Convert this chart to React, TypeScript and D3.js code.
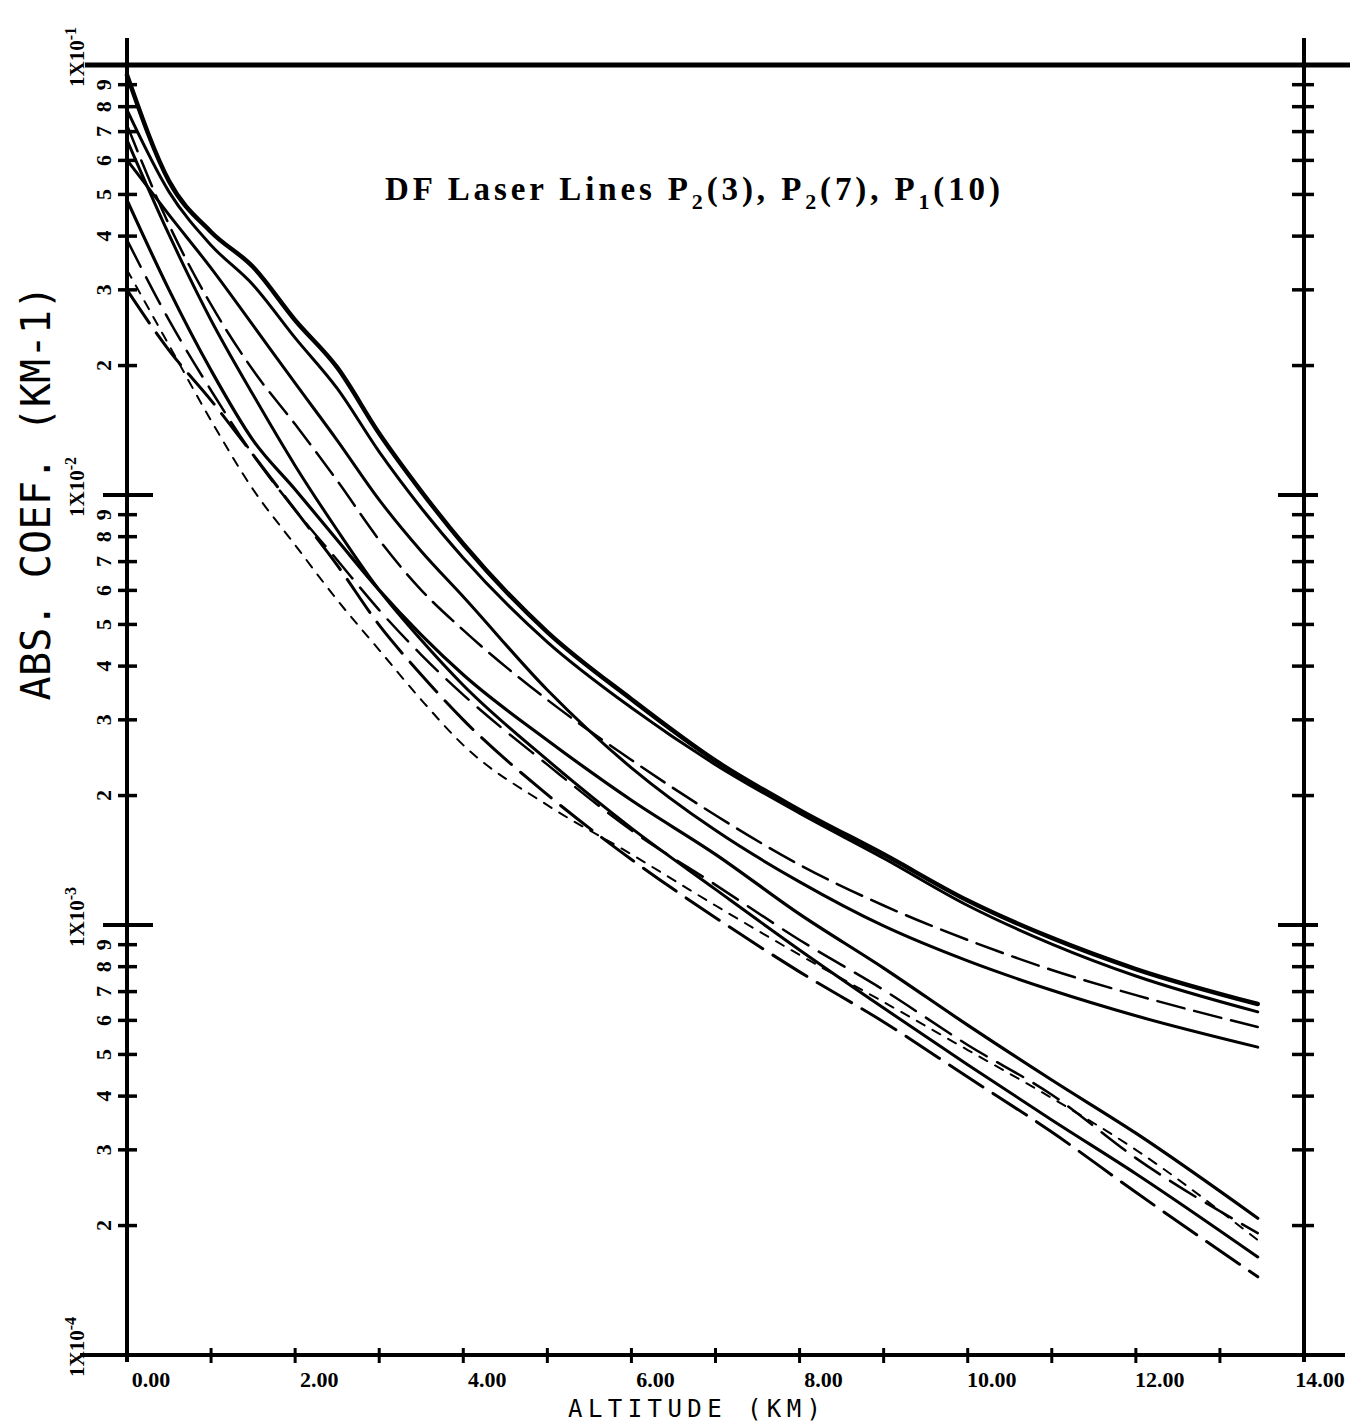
import React from "react";
import * as d3 from "d3";

const altitudeKm = [0, 0.5, 1, 1.5, 2, 2.5, 3, 3.5, 4, 5, 6, 7, 8, 9, 10, 11, 12, 13.45];

// absorption coefficient (km^-1), one array per curve
const coefA = [0.0948, 0.0537, 0.0409, 0.0339, 0.0255, 0.0198, 0.0139, 0.0102, 0.00769, 0.0048, 0.00335, 0.00241, 0.00185, 0.00146, 0.00114, 0.000933, 0.00079, 0.000655];
const coefB = [0.0786, 0.0507, 0.0381, 0.0308, 0.0232, 0.0177, 0.0126, 0.00933, 0.00714, 0.00455, 0.0032, 0.00236, 0.00182, 0.00143, 0.00111, 0.000903, 0.000761, 0.000628];
const coefC = [0.0725, 0.0425, 0.0277, 0.0195, 0.0146, 0.0108, 0.00786, 0.00601, 0.00485, 0.00334, 0.00242, 0.0018, 0.00138, 0.00111, 0.000923, 0.000786, 0.000687, 0.000579];
const coefD = [0.0601, 0.0448, 0.0337, 0.0248, 0.0182, 0.0134, 0.00974, 0.0074, 0.0058, 0.00352, 0.00232, 0.00166, 0.00126, 0.000995, 0.000825, 0.000705, 0.000615, 0.00052];
const coefE = [0.0485, 0.03, 0.0195, 0.0134, 0.0103, 0.00786, 0.00601, 0.00473, 0.00382, 0.00269, 0.00195, 0.00146, 0.00106, 0.000794, 0.000585, 0.000436, 0.000328, 0.000208];
const coefF = [0.0392, 0.0255, 0.0175, 0.0124, 0.00923, 0.00706, 0.0054, 0.00425, 0.00343, 0.00236, 0.00166, 0.00124, 0.000923, 0.000706, 0.000526, 0.000403, 0.000287, 0.000192];
const coefG = [0.0669, 0.0403, 0.0255, 0.0171, 0.0117, 0.00829, 0.00601, 0.0046, 0.00361, 0.00242, 0.00168, 0.00121, 0.000875, 0.000641, 0.000473, 0.000352, 0.000264, 0.000169];
const coefH = [0.03, 0.0217, 0.0166, 0.0124, 0.00923, 0.00687, 0.00498, 0.00382, 0.003, 0.00201, 0.00142, 0.00104, 0.000778, 0.000595, 0.000443, 0.00033, 0.000239, 0.000152];
const coefI = [0.0334, 0.0223, 0.0149, 0.0103, 0.00765, 0.0057, 0.00436, 0.00334, 0.00262, 0.0019, 0.00146, 0.00111, 0.000852, 0.000662, 0.000512, 0.000396, 0.0003, 0.000185];

const xTickLabels = ["0.00", "2.00", "4.00", "6.00", "8.00", "10.00", "12.00", "14.00"];

// line look for each curve
const curves = [
  { values: coefA, width: 4.5, dash: "" },
  { values: coefB, width: 3, dash: "" },
  { values: coefC, width: 2.5, dash: "28 10" },
  { values: coefD, width: 3, dash: "" },
  { values: coefE, width: 3.2, dash: "" },
  { values: coefF, width: 2.5, dash: "30 12" },
  { values: coefG, width: 3, dash: "" },
  { values: coefH, width: 3, dash: "40 12" },
  { values: coefI, width: 2, dash: "9 9" },
];

export default function App() {
  const x = d3.scaleLinear().domain([0, 14]).range([127, 1304]);
  const y = d3.scaleLog().domain([1e-4, 1e-1]).range([1355, 65]);

  const line = d3
    .line<number>()
    .x((_, i) => x(altitudeKm[i]))
    .y((d) => y(d))
    .curve(d3.curveMonotoneX);

  const yTicks = y.ticks().map((t) => {
    const e = Math.floor(Math.log10(t) + 1e-9);
    const m = Math.round(t / Math.pow(10, e));
    return { t, e, m };
  });

  const xMinor = d3.range(1, 14);
  const xMajor = d3.range(0, 15, 2);

  const labelFont = "Liberation Serif";
  const plotFont = "DejaVu Sans Mono";

  return (
    <svg
      width={1354}
      height={1427}
      style={{ position: "absolute", left: 0, top: 0, background: "#fff" }}
    >
      <rect width={1354} height={1427} fill="#fff" />

      {/* frame */}
      <line x1={85} x2={1350} y1={65} y2={65} stroke="#000" strokeWidth={5} />
      <line x1={80} x2={1345} y1={y(1e-4)} y2={y(1e-4)} stroke="#000" strokeWidth={4} />
      <line x1={x(0)} x2={x(0)} y1={38} y2={1362} stroke="#000" strokeWidth={4} />
      <line x1={x(14)} x2={x(14)} y1={38} y2={1362} stroke="#000" strokeWidth={4} />

      {/* log ticks, left and right */}
      {yTicks.map(({ t, m }, i) => {
        const yy = y(t);
        const major = m === 1;
        return (
          <g key={"yt" + i}>
            <line
              x1={x(0) - (major ? 24 : 9)}
              x2={x(0) + (major ? 26 : 10)}
              y1={yy}
              y2={yy}
              stroke="#000"
              strokeWidth={major ? 4 : 3.5}
            />
            <line
              x1={x(14) - (major ? 26 : 12)}
              x2={x(14) + (major ? 14 : 10)}
              y1={yy}
              y2={yy}
              stroke="#000"
              strokeWidth={major ? 4 : 3.5}
            />
          </g>
        );
      })}

      {/* left tick labels */}
      {yTicks.map(({ t, e, m }, i) => {
        const yy = y(t);
        if (m === 1) {
          return (
            <text
              key={"yl" + i}
              transform={`translate(84,${yy - 8}) rotate(-90)`}
              textAnchor="middle"
              fontFamily={labelFont}
              fontWeight="bold"
              fontSize={21}
            >
              1X10
              <tspan dy={-8} fontSize={16}>
                {e}
              </tspan>
            </text>
          );
        }
        return (
          <text
            key={"yl" + i}
            transform={`translate(111,${yy}) rotate(-90)`}
            textAnchor="middle"
            fontFamily={labelFont}
            fontWeight="bold"
            fontSize={22}
          >
            {m}
          </text>
        );
      })}

      {/* bottom ticks */}
      {xMinor.map((k) => (
        <line
          key={"xt" + k}
          x1={x(k)}
          x2={x(k)}
          y1={y(1e-4) - 7}
          y2={y(1e-4) + 8}
          stroke="#000"
          strokeWidth={3}
        />
      ))}
      {xMajor.map((k, i) => (
        <text
          key={"xl" + k}
          x={i === xMajor.length - 1 ? x(k) + 16 : x(k) + 24}
          y={1387}
          textAnchor="middle"
          fontFamily={labelFont}
          fontWeight="bold"
          fontSize={22}
        >
          {xTickLabels[i]}
        </text>
      ))}

      {/* curves */}
      {curves.map((c, i) => (
        <path
          key={"c" + i}
          d={line(c.values) || ""}
          fill="none"
          stroke="#000"
          strokeWidth={c.width}
          strokeDasharray={c.dash || undefined}
          strokeLinecap="round"
          strokeLinejoin="round"
        />
      ))}

      {/* title */}
      <text
        x={385}
        y={200}
        fontFamily={labelFont}
        fontWeight="bold"
        fontSize={33}
        textLength={615}
        lengthAdjust="spacing"
      >
        DF Laser Lines P
        <tspan dy={9} fontSize={22}>2</tspan>
        <tspan dy={-9}>(3), P</tspan>
        <tspan dy={9} fontSize={22}>2</tspan>
        <tspan dy={-9}>(7), P</tspan>
        <tspan dy={9} fontSize={22}>1</tspan>
        <tspan dy={-9}>(10)</tspan>
      </text>

      {/* axis titles */}
      <text
        transform="translate(50,493) rotate(-90)"
        textAnchor="middle"
        fontFamily={plotFont}
        fontSize={40}
        textLength={415}
        lengthAdjust="spacing"
      >
        ABS. COEF. (KM-1)
      </text>
      <text
        x={568}
        y={1417}
        fontFamily={plotFont}
        fontSize={24}
        textLength={253}
        lengthAdjust="spacing"
      >
        ALTITUDE (KM)
      </text>
    </svg>
  );
}
